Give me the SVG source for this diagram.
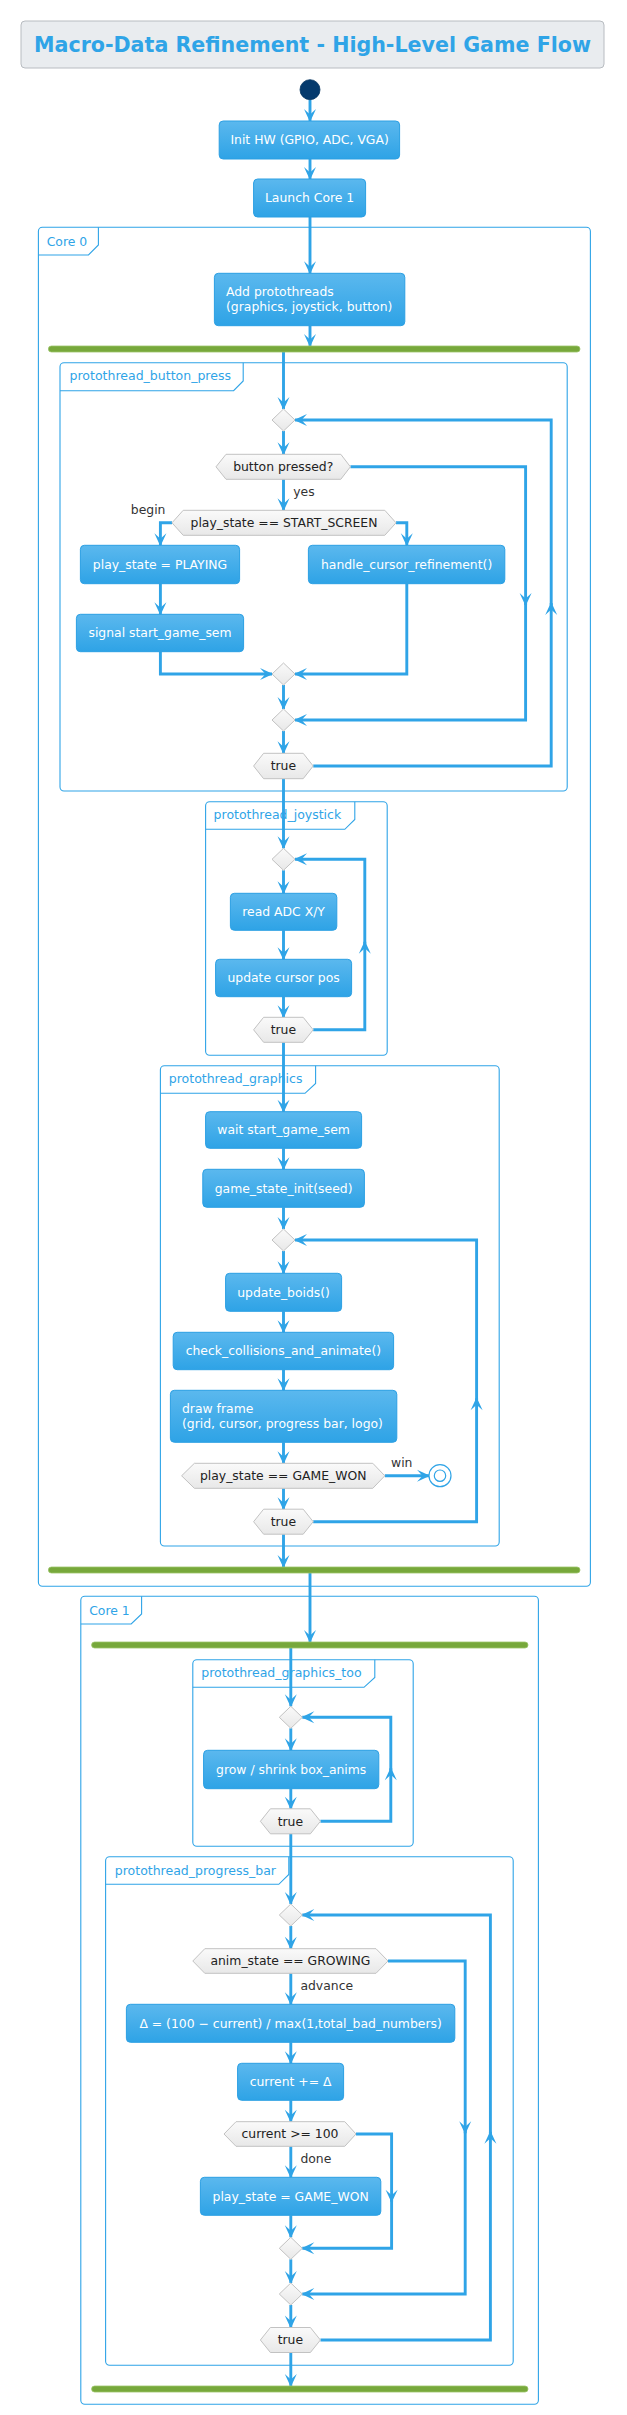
<svg xmlns="http://www.w3.org/2000/svg" width="627" height="2415" viewBox="0 0 627 2415">
<defs>
<linearGradient id="gBox" x1="0" y1="0" x2="0" y2="1"><stop offset="0" stop-color="#5bb8ee"/><stop offset="1" stop-color="#2ea3e6"/></linearGradient>
<linearGradient id="gDia" x1="0" y1="0" x2="0" y2="1"><stop offset="0" stop-color="#fafafa"/><stop offset="1" stop-color="#e8e8e8"/></linearGradient>
<marker id="ah" markerUnits="userSpaceOnUse" viewBox="-14 -8 16 16" refX="0" refY="0" markerWidth="16" markerHeight="16" orient="auto" overflow="visible">
<path d="M1,0 L-12,-6 L-6.5,0 L-12,6 Z" fill="#2fa4e7"/>
</marker>
<style>
text{font-family:"DejaVu Sans","Liberation Sans",sans-serif;font-size:12.4px}
.box{fill:url(#gBox);stroke:#2b9fe3;stroke-width:1}
.bt{fill:#ffffff;text-anchor:middle}
.btl{fill:#ffffff}
.dia{fill:url(#gDia);stroke:#c2c2c2;stroke-width:1}
.dt{fill:#222222;text-anchor:middle}
.lbl{fill:#333333}
.frame{fill:none;stroke:#2fa4e7;stroke-width:1.1}
.ft{fill:#2fa4e7}
.bar{fill:#77a83b;stroke:#9cc46a;stroke-width:0.8}
.ea{fill:none;stroke:#2fa4e7;stroke-width:2.9;marker-end:url(#ah)}
</style>
</defs>
<rect width="627" height="2415" fill="#ffffff"/>

<g id="title">
<rect x="21" y="21" width="583" height="47" rx="4" fill="#e9ecef" stroke="#b8bcc1" stroke-width="1"/>
<text x="34" y="52" textLength="557" lengthAdjust="spacingAndGlyphs" style="font-size:20.6px;font-weight:bold" fill="#2fa4e7">Macro-Data Refinement - High-Level Game Flow</text>
</g>

<g id="frames">
<g id="core0">
<rect class="frame" x="38.4" y="227.3" width="552" height="1359" rx="4"/>
<path class="frame" d="M38.4,255 H88.5 L98.4,245 V227.3"/>
<text class="ft" x="46.7" y="245.5">Core 0</text>
</g>
<g id="pt_button">
<rect class="frame" x="60" y="362.7" width="507.2" height="428.3" rx="4"/>
<path class="frame" d="M60,390.7 H233.6 L243.2,381 V362.7"/>
<text class="ft" x="69.5" y="380" textLength="161.5" lengthAdjust="spacingAndGlyphs">protothread_button_press</text>
</g>
<g id="pt_joystick">
<rect class="frame" x="205.6" y="801.7" width="181.6" height="253.6" rx="4"/>
<path class="frame" d="M205.6,829.3 H344.8 L354.8,819.5 V801.7"/>
<text class="ft" x="213.6" y="819" textLength="127.6" lengthAdjust="spacingAndGlyphs">protothread_joystick</text>
</g>
<g id="pt_graphics">
<rect class="frame" x="160.4" y="1065.7" width="338.8" height="480.3" rx="4"/>
<path class="frame" d="M160.4,1093.3 H305 L315.6,1083.5 V1065.7"/>
<text class="ft" x="168.8" y="1083" textLength="133.6" lengthAdjust="spacingAndGlyphs">protothread_graphics</text>
</g>
<g id="core1">
<rect class="frame" x="80.8" y="1596.3" width="457.6" height="808" rx="4"/>
<path class="frame" d="M80.8,1624 H131.2 L141.6,1614 V1596.3"/>
<text class="ft" x="89.2" y="1615">Core 1</text>
</g>
<g id="pt_graphics_too">
<rect class="frame" x="192.8" y="1659.7" width="220.4" height="186.6" rx="4"/>
<path class="frame" d="M192.8,1687.3 H364 L374.8,1677.5 V1659.7"/>
<text class="ft" x="201.2" y="1677" textLength="160.4" lengthAdjust="spacingAndGlyphs">protothread_graphics_too</text>
</g>
<g id="pt_progress">
<rect class="frame" x="105.6" y="1856.7" width="407.6" height="508.6" rx="4"/>
<path class="frame" d="M105.6,1884.3 H278.8 L288.8,1874.5 V1856.7"/>
<text class="ft" x="114.8" y="1875" textLength="161.2" lengthAdjust="spacingAndGlyphs">protothread_progress_bar</text>
</g>
</g>

<g id="connectors">
<path class="ea" d="M310,99.7 V121"/>
<path class="ea" d="M310,159 V179"/>
<path class="ea" d="M310,217 V273.3"/>
<path class="ea" d="M310,325.7 V346"/>
<path class="ea" d="M283.5,352 V409"/>
<path class="ea" d="M283.5,431 V454.3"/>
<path class="ea" d="M350.4,466.8 H525.6 V605"/>
<path class="ea" d="M525.6,603 V720 H295"/>
<path class="ea" d="M283.5,479.3 V510.3"/>
<path class="ea" d="M172,522.8 H160.4 V545.3"/>
<path class="ea" d="M396,522.8 H406.8 V545.3"/>
<path class="ea" d="M160.4,583.7 V614.3"/>
<path class="ea" d="M160.4,651.7 V674 H272"/>
<path class="ea" d="M406.8,583.7 V674 H295"/>
<path class="ea" d="M283.5,685 V709"/>
<path class="ea" d="M283.5,731 V753.3"/>
<path class="ea" d="M313.2,766 H551.2 V603"/>
<path class="ea" d="M551.2,605 V420 H295"/>
<path class="ea" d="M283.5,778.7 V848.3"/>
<path class="ea" d="M283.5,870.3 V893.3"/>
<path class="ea" d="M283.5,930.3 V959.3"/>
<path class="ea" d="M283.5,996.7 V1017.3"/>
<path class="ea" d="M313.2,1029.8 H364.8 V941.7"/>
<path class="ea" d="M364.8,943.7 V859.3 H295"/>
<path class="ea" d="M283.5,1042.3 V1111.7"/>
<path class="ea" d="M283.5,1148.3 V1169.3"/>
<path class="ea" d="M283.5,1207.3 V1229"/>
<path class="ea" d="M283.5,1251 V1273.3"/>
<path class="ea" d="M283.5,1311.3 V1332.3"/>
<path class="ea" d="M283.5,1369.7 V1390.3"/>
<path class="ea" d="M283.5,1442.3 V1463.3"/>
<path class="ea" d="M384.8,1475.8 H429"/>
<path class="ea" d="M283.5,1488.3 V1509.2"/>
<path class="ea" d="M313.2,1521.7 H476.6 V1398.3"/>
<path class="ea" d="M476.6,1400.3 V1240 H295"/>
<path class="ea" d="M283.5,1534.2 V1567"/>
<path class="ea" d="M310,1573 V1642"/>
<path class="ea" d="M290.8,1648 V1706.3"/>
<path class="ea" d="M290.8,1728.3 V1750.3"/>
<path class="ea" d="M290.8,1788.7 V1808.8"/>
<path class="ea" d="M320.4,1821.3 H390.8 V1768.3"/>
<path class="ea" d="M390.8,1770.3 V1717.3 H302.3"/>
<path class="ea" d="M290.8,1833.8 V1904"/>
<path class="ea" d="M290.8,1926 V1948.7"/>
<path class="ea" d="M388,1961 H465.2 V2133.3"/>
<path class="ea" d="M465.2,2131.3 V2294 H302.3"/>
<path class="ea" d="M290.8,1973.3 V2004.3"/>
<path class="ea" d="M290.8,2042.3 V2063.3"/>
<path class="ea" d="M290.8,2100.3 V2121.7"/>
<path class="ea" d="M356,2134 H391.6 V2201.7"/>
<path class="ea" d="M391.6,2199.7 V2248.3 H302.3"/>
<path class="ea" d="M290.8,2146.3 V2177.3"/>
<path class="ea" d="M290.8,2215.3 V2237.3"/>
<path class="ea" d="M290.8,2259.3 V2283"/>
<path class="ea" d="M290.8,2305 V2327.5"/>
<path class="ea" d="M320.4,2340 H490.4 V2131.7"/>
<path class="ea" d="M490.4,2133.7 V1915 H302.3"/>
<path class="ea" d="M290.8,2352.5 V2386"/>
<text class="lbl" x="293.2" y="496">yes</text>
<text class="lbl" x="130.8" y="514">begin</text>
<text class="lbl" x="391" y="1467">win</text>
<text class="lbl" x="300.4" y="1990">advance</text>
<text class="lbl" x="300.4" y="2163">done</text>
</g>

<g id="start"><circle cx="310" cy="89.7" r="10" fill="#053a6d" stroke="#04335f" stroke-width="0.8"/></g>

<g id="init_hw"><rect class="box" x="219.2" y="121" width="180.4" height="38" rx="4"/><text class="bt" x="309.6" y="144.3">Init HW (GPIO, ADC, VGA)</text></g>
<g id="launch_core1"><rect class="box" x="253.6" y="179" width="112" height="38" rx="4"/><text class="bt" x="309.6" y="202.3">Launch Core 1</text></g>
<g id="add_pt"><rect class="box" x="214.4" y="273.3" width="190.4" height="52.4" rx="4"/><text class="btl" x="226" y="296">Add protothreads</text><text class="btl" x="226" y="310.5">(graphics, joystick, button)</text></g>
<g id="fork0"><rect class="bar" x="48.4" y="346" width="531.6" height="6" rx="3"/></g>

<g id="bp_loop"><polygon class="dia" points="283.5,409 295,420 283.5,431 272,420"/></g>
<g id="bp_if"><polygon class="dia" points="216,466.8 226,454.3 340.8,454.3 350.4,466.8 340.8,479.3 226,479.3"/><text class="dt" x="283.2" y="471.1">button pressed?</text></g>
<g id="bp_if2"><polygon class="dia" points="172,522.8 183.2,510.3 384.8,510.3 396,522.8 384.8,535.3 183.2,535.3"/><text class="dt" x="284" y="527.1">play_state == START_SCREEN</text></g>
<g id="set_playing"><rect class="box" x="80.4" y="545.3" width="159.2" height="38.4" rx="4"/><text class="bt" x="160" y="568.8">play_state = PLAYING</text></g>
<g id="handle_cursor"><rect class="box" x="308.4" y="545.3" width="196.4" height="38.4" rx="4"/><text class="bt" x="406.6" y="568.8">handle_cursor_refinement()</text></g>
<g id="signal_sem"><rect class="box" x="76.4" y="614.3" width="167.2" height="37.4" rx="4"/><text class="bt" x="160" y="637.3">signal start_game_sem</text></g>
<g id="bp_merge1"><polygon class="dia" points="283.5,663 295,674 283.5,685 272,674"/></g>
<g id="bp_merge2"><polygon class="dia" points="283.5,709 295,720 283.5,731 272,720"/></g>
<g id="bp_true"><polygon class="dia" points="253.6,766 263.6,753.3 303.2,753.3 313.2,766 303.2,778.7 263.6,778.7"/><text class="dt" x="283.4" y="770.3">true</text></g>

<g id="js_loop"><polygon class="dia" points="283.5,848.3 295,859.3 283.5,870.3 272,859.3"/></g>
<g id="read_adc"><rect class="box" x="230.4" y="893.3" width="106.4" height="37" rx="4"/><text class="bt" x="283.6" y="916.1">read ADC X/Y</text></g>
<g id="update_cursor"><rect class="box" x="215.6" y="959.3" width="136" height="37.4" rx="4"/><text class="bt" x="283.6" y="982.3">update cursor pos</text></g>
<g id="js_true"><polygon class="dia" points="253.6,1029.8 263.6,1017.3 303.2,1017.3 313.2,1029.8 303.2,1042.3 263.6,1042.3"/><text class="dt" x="283.4" y="1034.1">true</text></g>

<g id="wait_sem"><rect class="box" x="205.6" y="1111.7" width="156" height="36.6" rx="4"/><text class="bt" x="283.6" y="1134.3">wait start_game_sem</text></g>
<g id="game_init"><rect class="box" x="202.8" y="1169.3" width="161.6" height="38" rx="4"/><text class="bt" x="283.6" y="1192.6">game_state_init(seed)</text></g>
<g id="gr_loop"><polygon class="dia" points="283.5,1229 295,1240 283.5,1251 272,1240"/></g>
<g id="update_boids"><rect class="box" x="225.6" y="1273.3" width="116" height="38" rx="4"/><text class="bt" x="283.6" y="1296.6">update_boids()</text></g>
<g id="check_coll"><rect class="box" x="173.2" y="1332.3" width="220.4" height="37.4" rx="4"/><text class="bt" x="283.4" y="1355.3">check_collisions_and_animate()</text></g>
<g id="draw_frame"><rect class="box" x="170.4" y="1390.3" width="226.4" height="52" rx="4"/><text class="btl" x="182" y="1413">draw frame</text><text class="btl" x="182" y="1427.5">(grid, cursor, progress bar, logo)</text></g>
<g id="gr_if"><polygon class="dia" points="181.6,1475.8 194.4,1463.3 372.8,1463.3 384.8,1475.8 372.8,1488.3 194.4,1488.3"/><text class="dt" x="283.2" y="1480.1">play_state == GAME_WON</text></g>
<g id="end"><circle cx="440" cy="1475.7" r="11" fill="#ffffff" stroke="#2fa4e7" stroke-width="1.2"/><circle cx="440" cy="1475.7" r="5.7" fill="none" stroke="#2fa4e7" stroke-width="1.2"/></g>
<g id="gr_true"><polygon class="dia" points="253.6,1521.7 263.6,1509.2 303.2,1509.2 313.2,1521.7 303.2,1534.2 263.6,1534.2"/><text class="dt" x="283.4" y="1526">true</text></g>
<g id="join0"><rect class="bar" x="48.4" y="1567" width="531.6" height="6" rx="3"/></g>

<g id="fork1"><rect class="bar" x="91.6" y="1642" width="436.4" height="6" rx="3"/></g>
<g id="gt_loop"><polygon class="dia" points="290.8,1706.3 302.3,1717.3 290.8,1728.3 279.3,1717.3"/></g>
<g id="grow_shrink"><rect class="box" x="203.6" y="1750.3" width="175.2" height="38.4" rx="4"/><text class="bt" x="291.2" y="1773.8">grow / shrink box_anims</text></g>
<g id="gt_true"><polygon class="dia" points="260.4,1821.3 270.4,1808.8 310.4,1808.8 320.4,1821.3 310.4,1833.8 270.4,1833.8"/><text class="dt" x="290.4" y="1825.6">true</text></g>

<g id="pb_loop"><polygon class="dia" points="290.8,1904 302.3,1915 290.8,1926 279.3,1915"/></g>
<g id="pb_if"><polygon class="dia" points="192.8,1961 204.8,1948.7 376,1948.7 388,1961 376,1973.3 204.8,1973.3"/><text class="dt" x="290.4" y="1965.3">anim_state == GROWING</text></g>
<g id="delta"><rect class="box" x="126.4" y="2004.3" width="328.4" height="38" rx="4"/><text class="bt" x="290.6" y="2027.6">Δ = (100 − current) / max(1,total_bad_numbers)</text></g>
<g id="current_add"><rect class="box" x="237.6" y="2063.3" width="106" height="37" rx="4"/><text class="bt" x="290.6" y="2086">current += Δ</text></g>
<g id="pb_if2"><polygon class="dia" points="224,2134 236,2121.7 344.8,2121.7 356,2134 344.8,2146.3 236,2146.3"/><text class="dt" x="290" y="2138.3">current &gt;= 100</text></g>
<g id="set_won"><rect class="box" x="200.4" y="2177.3" width="180.4" height="38" rx="4"/><text class="bt" x="290.6" y="2200.6">play_state = GAME_WON</text></g>
<g id="pb_merge1"><polygon class="dia" points="290.8,2237.3 302.3,2248.3 290.8,2259.3 279.3,2248.3"/></g>
<g id="pb_merge2"><polygon class="dia" points="290.8,2283 302.3,2294 290.8,2305 279.3,2294"/></g>
<g id="pb_true"><polygon class="dia" points="260.4,2340 270.4,2327.5 310.4,2327.5 320.4,2340 310.4,2352.5 270.4,2352.5"/><text class="dt" x="290.4" y="2344.3">true</text></g>
<g id="join1"><rect class="bar" x="91.6" y="2386" width="436.4" height="6" rx="3"/></g>
</svg>
